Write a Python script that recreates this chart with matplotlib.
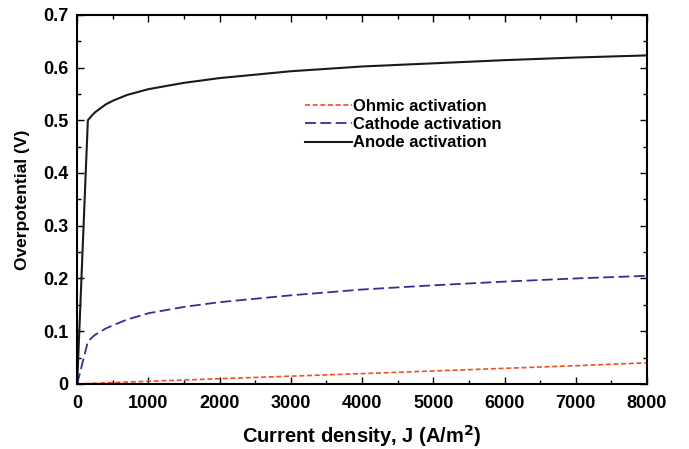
import matplotlib.pyplot as plt
from matplotlib.ticker import MultipleLocator

plt.rcParams['font.family'] = 'Liberation Sans'
plt.rcParams['font.weight'] = 'bold'

J = [0, 150, 200, 250, 300, 400, 500, 700, 1000, 1500, 2000, 3000, 4000, 5000, 6000, 7000, 8000]
anode = [0, 0.500, 0.508, 0.515, 0.520, 0.530, 0.537, 0.548, 0.559, 0.571, 0.580, 0.593, 0.602, 0.608, 0.614, 0.619, 0.623]
cathode = [0, 0.080, 0.087, 0.093, 0.097, 0.105, 0.111, 0.122, 0.134, 0.146, 0.155, 0.168, 0.179, 0.187, 0.194, 0.200, 0.205]
ohmic = [0, 0.0007, 0.0009, 0.0012, 0.0015, 0.002, 0.0025, 0.0035, 0.005, 0.0074, 0.0098, 0.0147, 0.0195, 0.0245, 0.0295, 0.0345, 0.040]

fig = plt.figure(figsize=(6.89, 4.49), dpi=100)
ax = fig.add_axes([0.112, 0.145, 0.827, 0.822])

ax.plot(J, ohmic, color='#f04e23', linestyle=(0, (3, 1.6)), linewidth=1.2, label='Ohmic activation')
ax.plot(J, cathode, color='#2e3192', linestyle=(0, (6, 2.5)), linewidth=1.3, label='Cathode activation')
ax.plot(J, anode, color='#1a1a1a', linestyle='-', linewidth=1.5, label='Anode activation')

ax.set_xlim(0, 8000)
ax.set_ylim(0, 0.7)
ax.xaxis.set_major_locator(MultipleLocator(1000))
ax.xaxis.set_minor_locator(MultipleLocator(500))
ax.yaxis.set_major_locator(MultipleLocator(0.1))
ax.yaxis.set_minor_locator(MultipleLocator(0.05))
ax.set_yticks([0, 0.1, 0.2, 0.3, 0.4, 0.5, 0.6, 0.7], ['0', '0.1', '0.2', '0.3', '0.4', '0.5', '0.6', '0.7'])
ax.tick_params(which='both', direction='in', top=True, right=True, labelsize=13, width=1)
ax.tick_params(which='major', length=5)
ax.tick_params(which='minor', length=3)
ax.tick_params(axis='x', pad=8)
ax.tick_params(axis='y', pad=6)
for s in ax.spines.values():
    s.set_linewidth(1.5)

ax.set_xlabel(r'Current density, J (A/m$\mathbf{^2}$)', fontsize=14.5, fontweight='bold', labelpad=8)
ax.set_ylabel('Overpotential (V)', fontsize=12.5, fontweight='bold', labelpad=10)

ax.legend(loc='upper left', bbox_to_anchor=(0.385, 0.795), frameon=False, fontsize=12,
          handlelength=2.8, handletextpad=0.1, labelspacing=0.2, borderpad=0)

fig.savefig('out.png', dpi=100)
